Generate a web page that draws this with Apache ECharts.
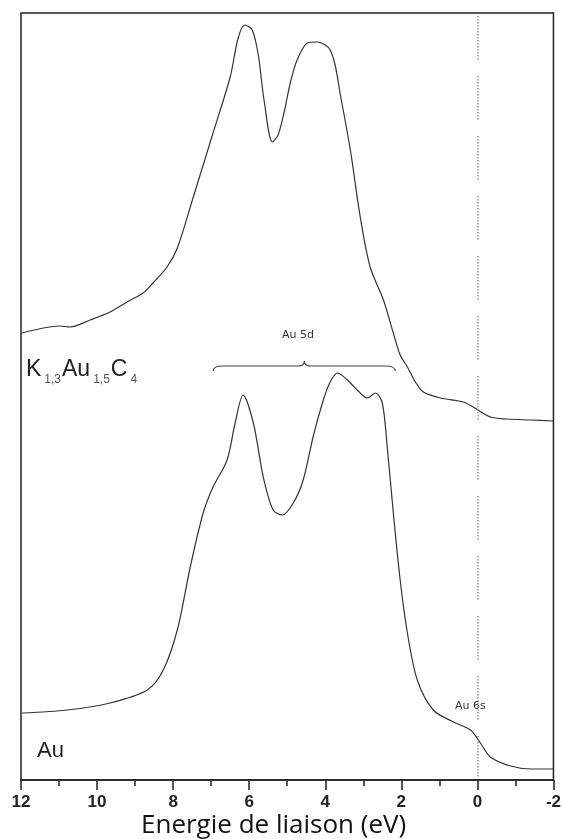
<!DOCTYPE html>
<html><head><meta charset="utf-8">
<script src="https://cdn.jsdelivr.net/npm/echarts@6/dist/echarts.min.js"></script>
<style>html,body{margin:0;padding:0;background:#fff}#c{width:564px;height:839px}</style>
</head><body><div id="c"></div>
<script>
// Binding energy (eV) and intensity (arbitrary units, offset curves)
const kauEnergy = [11.97,10.97,10.71,10.18,9.66,9.21,8.79,8.53,8.16,7.89,7.47,6.95,6.5,6.29,6.11,5.92,5.76,5.61,5.39,5.24,5.08,4.92,4.74,4.47,4.21,4.0,3.87,3.74,3.61,3.34,3.08,2.82,2.47,2.21,2.03,1.84,1.63,1.42,0.97,0.37,0.11,-0.34,-0.79,-1.39,-2.0];
const kauIntensity = [449,456,455,462,470,480,489,499,515,534,585,649,705,744,757,752,727,682,640,647,670,699,722,739,740,737,732,717,689,632,565,515,482,449,427,415,400,390,384,380,375,365,363,362,361];
const auEnergy = [11.97,10.79,9.66,8.68,8.26,7.89,7.55,7.21,6.95,6.58,6.37,6.16,5.89,5.63,5.37,5.13,4.84,4.58,4.32,4.05,3.87,3.68,3.42,3.08,2.89,2.68,2.5,2.37,2.21,2.03,1.84,1.58,1.16,0.63,0.18,-0.08,-0.34,-0.87,-1.42,-2.0];
const auIntensity = [69,72,79,92,112,152,215,269,295,322,359,387,359,305,272,267,279,302,345,382,400,409,402,389,384,389,379,335,269,202,149,102,72,60,52,39,25,16,13,13];
const xTicks = [12,10,8,6,4,2,0,-2];
const braceRange = [6.95, 2.16, 4.55, 416]; // from, to, tip, level

const dash = [];
for (let i = 0; i < 15; i++) { dash.push(1.5, 1.5); }
dash[dash.length - 1] = 16.5;

const chart = echarts.init(document.getElementById('c'));
chart.setOption({
  animation: false,
  grid: {left: 21, right: 10, top: 13, bottom: 59, show: true, borderColor: '#222', borderWidth: 1.5},
  xAxis: {
    type: 'value', inverse: true, min: -2, max: 12, interval: 2,
    axisLine: {show: true, lineStyle: {color: '#222', width: 1.5}},
    axisTick: {show: true, length: 10, lineStyle: {color: '#222', width: 1.5}},
    minorTick: {show: true, splitNumber: 2, length: 6, lineStyle: {color: '#222', width: 1.5}},
    splitLine: {show: false},
    axisLabel: {fontFamily: 'Liberation Sans', fontWeight: 'bold', fontSize: 17, color: '#222', margin: 14,
      formatter: v => xTicks.indexOf(v) >= 0 ? String(v) : ''}
  },
  yAxis: {type: 'value', min: 2, max: 769, show: false, splitLine: {show: false}},
  series: [
    {type: 'line', data: kauEnergy.map((e, i) => [e, kauIntensity[i]]), smooth: 0.3, symbol: 'none',
     lineStyle: {color: '#333', width: 1.2},
     markLine: {silent: true, symbol: 'none', label: {show: false},
       lineStyle: {color: '#999', width: 1.5, type: dash},
       data: [[{coord: [0, 766]}, {coord: [0, 4]}]]}},
    {type: 'line', data: auEnergy.map((e, i) => [e, auIntensity[i]]), smooth: 0.3, symbol: 'none',
     lineStyle: {color: '#333', width: 1.2}},
    {type: 'custom', data: [braceRange],
     renderItem: function (params, api) {
       const a = api.coord([api.value(0), api.value(3)]);
       const b = api.coord([api.value(1), api.value(3)]);
       const t = api.coord([api.value(2), api.value(3)]);
       const y = a[1], h = 5;
       const d = 'M' + a[0] + ' ' + (y + h) + ' Q' + a[0] + ' ' + y + ' ' + (a[0] + 10) + ' ' + y +
         ' L' + (t[0] - 6) + ' ' + y + ' Q' + t[0] + ' ' + y + ' ' + t[0] + ' ' + (y - h) +
         ' Q' + t[0] + ' ' + y + ' ' + (t[0] + 6) + ' ' + y +
         ' L' + (b[0] - 10) + ' ' + y + ' Q' + b[0] + ' ' + y + ' ' + b[0] + ' ' + (y + h);
       return {type: 'path', shape: {pathData: d}, style: {stroke: '#444', fill: null, lineWidth: 1.2}};
     }}
  ],
  graphic: [
    {type: 'text', left: 141, top: 813, style: {text: 'Energie de liaison (eV)', fontFamily: 'Open Sans', fontSize: 26, fill: '#111'}},
    {type: 'text', left: 26, top: 358, style: {
      text: '{b|K}{s|1,3}{b|Au}{s|1,5}{b|C}{s|4}',
      rich: {b: {fontFamily: 'Liberation Sans', fontSize: 23, fill: '#222', verticalAlign: 'bottom'},
             s: {fontFamily: 'Liberation Sans', fontSize: 12, fill: '#555', verticalAlign: 'bottom', padding: [0, 1, -5, 3]}}}},
    {type: 'text', left: 282, top: 330, style: {text: 'Au 5d', fontFamily: 'DejaVu Sans', fontSize: 11, fill: '#333'}},
    {type: 'text', left: 455, top: 701, style: {text: 'Au 6s', fontFamily: 'DejaVu Sans', fontSize: 11, fill: '#333'}},
    {type: 'text', left: 37, top: 740, style: {text: 'Au', fontFamily: 'Liberation Sans', fontSize: 22, fill: '#222'}}
  ]
});
</script></body></html>
